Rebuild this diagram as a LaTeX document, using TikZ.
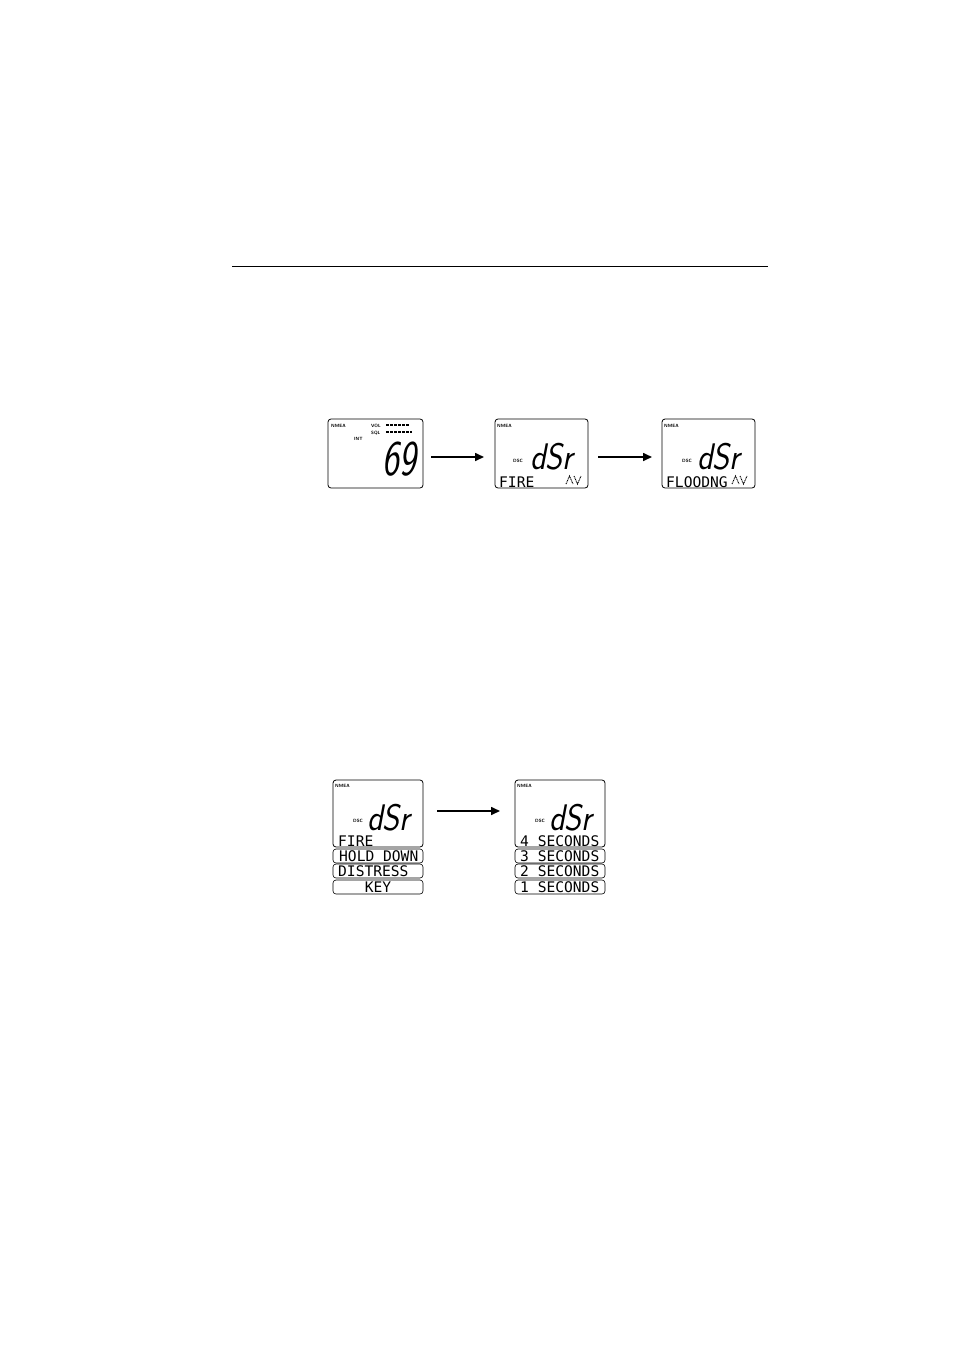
\documentclass[tikz,border=0pt]{standalone}
\usepackage{fontspec}
\usetikzlibrary{arrows.meta}
\newfontfamily\lcdface{DejaVu Sans Mono}
\newcommand{\lcdfont}{\lcdface\fontsize{14.6}{15}\selectfont}
\newcommand{\segfont}{\fontfamily{lmss}\fontseries{m}\fontshape{sl}\selectfont}
\begin{document}
\begin{tikzpicture}[x=1pt,y=-1pt,
  lcdbox/.style={draw, rounded corners=3pt, line width=0.8pt, inner sep=0pt},
  rowbox/.style={draw, rounded corners=3pt, line width=0.6pt, inner sep=0pt, minimum width=90pt, minimum height=14pt},
  tiny/.style={font=\sffamily\bfseries\fontsize{4.6}{5}\selectfont, inner sep=0pt, anchor=base west},
  lcdtxt/.style={font=\lcdfont, inner sep=0pt, anchor=base west},
  seg/.style={inner sep=0pt, anchor=base west},
  flow/.style={line width=1.6pt, -{Triangle[length=9pt,width=8pt]}},
  bar/.style={line width=1.6pt, dash pattern=on 3pt off 1pt},
  icon/.style={line width=0.9pt, dash pattern=on 1pt off 0.7pt}
]
\useasboundingbox (0,0) rectangle (954,1351);

% top rule
\coordinate (r1) at (232,266);
\coordinate (r2) at (768,266);
\draw[line width=1pt] (r1) -- (r2);

% ---------- LCD 1 ----------
\node[lcdbox, minimum width=95pt, minimum height=69pt] (d1) at (375.5,453.5) {};
\node[tiny] (d1n) at (331,427) {NMEA};
\node[tiny] (d1v) at (371,427) {VOL};
\node[tiny] (d1s) at (371,434) {SQL};
\node[tiny] (d1i) at (354,440) {INT};
\coordinate (b1a) at (386,425); \coordinate (b1b) at (409,425);
\coordinate (b2a) at (386,432); \coordinate (b2b) at (412,432);
\draw[bar, line width=1.2pt] (b1a) -- (b1b);
\draw[bar] (b2a) -- (b2b);
\node[seg] (d1big) at (382,475) {\scalebox{0.72}[1]{\segfont\fontsize{50}{50}\selectfont 69}};

% arrow 1
\coordinate (a1s) at (431,457); \coordinate (a1e) at (484,457);
\draw[flow] (a1s) -- (a1e);

% ---------- LCD 2 ----------
\node[lcdbox, minimum width=93pt, minimum height=69pt] (d2) at (541.5,453.5) {};
\node[tiny] (d2n) at (497,427) {NMEA};
\node[tiny] (d2d) at (513,462) {DSC};
\node[seg] (d2big) at (530,469) {\scalebox{0.88}[1]{\segfont\fontsize{37}{37}\selectfont dSr}};
\node[lcdtxt] (d2t) at (499,487) {FIRE};
\coordinate (i2) at (566,476);
\draw[icon] (i2) ++(0,8) -- ++(3.5,-8) -- ++(3.5,8);
\draw[icon] (i2) ++(8,0) -- ++(3.5,8) -- ++(3.5,-8);

% arrow 2
\coordinate (a2s) at (598,457); \coordinate (a2e) at (652,457);
\draw[flow] (a2s) -- (a2e);

% ---------- LCD 3 ----------
\node[lcdbox, minimum width=93pt, minimum height=69pt] (d3) at (708.5,453.5) {};
\node[tiny] (d3n) at (664,427) {NMEA};
\node[tiny] (d3d) at (682,462) {DSC};
\node[seg] (d3big) at (697,469) {\scalebox{0.88}[1]{\segfont\fontsize{37}{37}\selectfont dSr}};
\node[lcdtxt] (d3t) at (666,487) {FLOODNG};
\coordinate (i3) at (732,476);
\draw[icon] (i3) ++(0,8) -- ++(3.5,-8) -- ++(3.5,8);
\draw[icon] (i3) ++(8,0) -- ++(3.5,8) -- ++(3.5,-8);

% ---------- LCD 4 ----------
\node[lcdbox, minimum width=90pt, minimum height=67pt] (d4) at (378,813.5) {};
\node[tiny] (d4n) at (335,787) {NMEA};
\node[tiny] (d4d) at (353,822) {DSC};
\node[seg] (d4big) at (367,830) {\scalebox{0.88}[1]{\segfont\fontsize{37}{37}\selectfont dSr}};
\node[lcdtxt] (d4t) at (338,846) {FIRE};
\node[rowbox] (r41) at (378,856) {};
\node[rowbox] (r42) at (378,871) {};
\node[rowbox] (r43) at (378,887) {};
\node[lcdtxt] (r41t) at (339,861) {HOLD DOWN};
\node[lcdtxt] (r42t) at (338,876) {DISTRESS};
\node[lcdtxt, anchor=base] (r43t) at (378,892) {KEY};

% arrow 3
\coordinate (a3s) at (437,811); \coordinate (a3e) at (500,811);
\draw[flow] (a3s) -- (a3e);

% ---------- LCD 5 ----------
\node[lcdbox, minimum width=90pt, minimum height=67pt] (d5) at (560,813.5) {};
\node[tiny] (d5n) at (517,787) {NMEA};
\node[tiny] (d5d) at (535,822) {DSC};
\node[seg] (d5big) at (549,830) {\scalebox{0.88}[1]{\segfont\fontsize{37}{37}\selectfont dSr}};
\node[lcdtxt] (d5t) at (520,846) {4 SECONDS};
\node[rowbox] (r51) at (560,856) {};
\node[rowbox] (r52) at (560,871) {};
\node[rowbox] (r53) at (560,887) {};
\node[lcdtxt] (r51t) at (520,861) {3 SECONDS};
\node[lcdtxt] (r52t) at (520,876) {2 SECONDS};
\node[lcdtxt] (r53t) at (520,892) {1 SECONDS};
\end{tikzpicture}
\end{document}
